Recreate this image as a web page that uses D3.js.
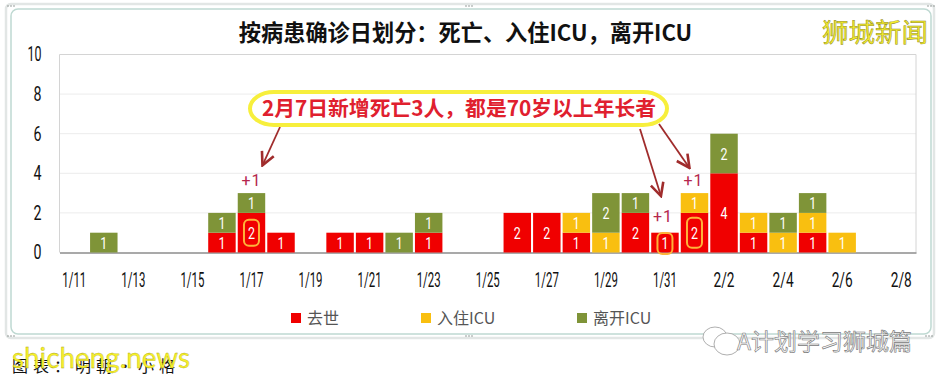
<!DOCTYPE html>
<html>
<head>
<meta charset="utf-8">
<script src="https://cdn.jsdelivr.net/npm/d3@7"></script>
<style>
html, body { margin: 0; padding: 0; background: #fff; }
svg { display: block; }
text { font-family: "Roboto", sans-serif; }
</style>
</head>
<body>
<div id="chart"></div>
<script>
// data
const dates = ["1/11","1/12","1/13","1/14","1/15","1/16","1/17","1/18","1/19","1/20","1/21","1/22","1/23","1/24","1/25",
    "1/26","1/27","1/28","1/29","1/30","1/31","2/1","2/2","2/3","2/4","2/5","2/6","2/7","2/8"];
const death = [0,0,0,0,0,1,2,1,0,1,1,0,1,0,0,2,2,1,0,2,1,2,4,1,0,1,0,0,0];
const icuIn = [0,0,0,0,0,0,0,0,0,0,0,0,0,0,0,0,0,1,1,0,0,1,0,1,1,1,1,0,0];
const icuOut = [0,1,0,0,0,1,1,0,0,0,0,1,1,0,0,0,0,0,2,1,0,0,2,0,1,1,0,0,0];
const yTicks = [0,2,4,6,8,10];
const xTicks = ["1/11","1/13","1/15","1/17","1/19","1/21","1/23","1/25","1/27","1/29","1/31","2/2","2/4","2/6","2/8"];
const seriesNames = ["去世","入住ICU","离开ICU"];
const seriesColors = ["#f00000","#f9bf10","#7f9438"];
const plusOne = [["1/17",3,0],["1/31",1.2,-2],["2/1",3,-1]];
const ringed = [["1/17",1,26],["1/31",0.45,21],["2/1",1,30]];

const W = 942, H = 382;
const margin = { top: 54.5, right: 26, bottom: 129.5, left: 59.5 };
const width = W - margin.left - margin.right,
      height = H - margin.top - margin.bottom;

const root = d3.select("#chart").append("svg")
    .attr("width", W)
    .attr("height", H);

// window frame round the chart
root.append("rect").attr("x", 6).attr("y", 4).attr("width", 928).attr("height", 334)
    .attr("rx", 5).attr("fill", "none").attr("stroke", "#e2e6e5").attr("stroke-width", 2.5);
root.append("rect").attr("x", 11).attr("y", 9).attr("width", 920).attr("height", 325)
    .attr("rx", 7).attr("fill", "#fff").attr("stroke", "#bfd9d2").attr("stroke-width", 1.5);
[[8,6],[466,6],[928,6],[8,336],[466,336],[926,336]].forEach(p => {
    root.append("g").selectAll("circle").data([0,1,2]).join("circle")
        .attr("cx", d => p[0] + d * 3).attr("cy", p[1]).attr("r", 0.8).attr("fill", "#8a8f8d");
});

const svg = root.append("g").attr("transform", `translate(${margin.left},${margin.top})`);

const x = d3.scaleBand().domain(dates).range([0, width]).paddingInner(0.07).paddingOuter(0.035);
const y = d3.scaleLinear().domain([0, 10]).range([height, 0]);
const cx = d => x(d) + x.bandwidth() / 2;

// grid
svg.append("g").selectAll("line").data(yTicks.slice(1)).join("line")
    .attr("x1", 0).attr("x2", width)
    .attr("y1", d => y(d)).attr("y2", d => y(d))
    .attr("stroke", d => d === 10 ? "#d4d4d4" : "#ececec");
svg.append("line").attr("x1", 0).attr("x2", 0).attr("y1", 0).attr("y2", height).attr("stroke", "#d4d4d4");
svg.append("line").attr("x1", width).attr("x2", width).attr("y1", 0).attr("y2", height).attr("stroke", "#d4d4d4");

// axes, the original labels are a narrow face so squeeze them
const xAxis = svg.append("g")
    .attr("transform", `translate(0,${height})`)
    .call(d3.axisBottom(x).tickValues(xTicks).tickSize(0).tickPadding(20));
xAxis.select(".domain").attr("stroke", "#8c8c8c").attr("stroke-width", 1.5);
xAxis.selectAll("text")
    .attr("font-size", 20).attr("fill", "#111")
    .style("font-family", "Roboto")
    .attr("textLength", d => d.length === 3 ? 21 : 24)
    .attr("lengthAdjust", "spacingAndGlyphs");

const yAxis = svg.append("g")
    .call(d3.axisLeft(y).tickValues(yTicks).tickSize(0).tickPadding(18));
yAxis.select(".domain").remove();
yAxis.selectAll("text")
    .attr("font-size", 20).attr("fill", "#111")
    .style("font-family", "Roboto")
    .attr("textLength", d => d === 10 ? 14 : 8)
    .attr("lengthAdjust", "spacingAndGlyphs");

// stacked bars
const rows = dates.map((d, i) => ({ date: d, 0: death[i], 1: icuIn[i], 2: icuOut[i] }));
const stacked = d3.stack().keys([0, 1, 2])(rows);

const layers = svg.selectAll("g.layer").data(stacked).join("g")
    .attr("class", "layer")
    .attr("fill", d => seriesColors[d.key]);

layers.selectAll("rect")
    .data(d => d.filter(s => s[1] > s[0]))
    .join("rect")
    .attr("x", d => x(d.data.date))
    .attr("y", d => y(d[1]))
    .attr("width", x.bandwidth())
    .attr("height", d => y(d[0]) - y(d[1]));

layers.selectAll("text")
    .data(d => d.filter(s => s[1] > s[0]))
    .join("text")
    .attr("x", d => cx(d.data.date))
    .attr("y", d => y((d[0] + d[1]) / 2) + 6)
    .attr("text-anchor", "middle")
    .attr("font-size", 16)
    .attr("fill", "#fff")
    .attr("textLength", 7)
    .attr("lengthAdjust", "spacingAndGlyphs")
    .text(d => d[1] - d[0]);

// orange rings on the new deaths
svg.selectAll("rect.ring").data(ringed).join("rect")
    .attr("class", "ring")
    .attr("x", d => cx(d[0]) - 7.5)
    .attr("y", d => y(d[1]) - d[2] / 2)
    .attr("width", 15)
    .attr("height", d => d[2])
    .attr("rx", 5)
    .attr("fill", "none")
    .attr("stroke", "#fdb33a")
    .attr("stroke-width", 2);

// +1 labels
svg.selectAll("text.plus").data(plusOne).join("text")
    .attr("class", "plus")
    .attr("x", d => cx(d[0]) + d[2])
    .attr("y", d => y(d[1]) - 7)
    .attr("text-anchor", "middle")
    .attr("font-size", 16)
    .attr("fill", "#b5264c")
    .attr("letter-spacing", 1)
    .text("+1");

// callout arrows: start in page pixels, tip placed on the chart scales
root.append("defs").append("marker")
    .attr("id", "arrow").attr("viewBox", "0 0 10 10").attr("refX", 9).attr("refY", 5)
    .attr("markerWidth", 9).attr("markerHeight", 9).attr("orient", "auto")
    .append("path").attr("d", "M1,1 L9,5 L1,9").attr("fill", "none").attr("stroke", "#a02c2c").attr("stroke-width", 1.6);

const arrows = [
    [280, 127, "1/17", 4.4, 11],
    [640, 129, "1/31", 2.85, -4],
    [659, 124, "2/1", 4.27, -5]
];
root.selectAll("line.arrow").data(arrows).join("line")
    .attr("class", "arrow")
    .attr("x1", d => d[0]).attr("y1", d => d[1])
    .attr("x2", d => margin.left + cx(d[2]) + d[4])
    .attr("y2", d => margin.top + y(d[3]))
    .attr("stroke", "#a02c2c").attr("stroke-width", 1.8)
    .attr("marker-end", "url(#arrow)");

root.append("rect").attr("x", 250).attr("y", 92).attr("width", 417).attr("height", 33)
    .attr("rx", 24).attr("ry", 16.5).attr("fill", "#fff").attr("stroke", "#f7ef3c").attr("stroke-width", 4);
root.append("text").attr("x", 459).attr("y", 116)
    .attr("text-anchor", "middle").attr("font-size", 20.8).attr("font-weight", 700)
    .attr("fill", "#e0202e").style("font-family", '"Noto Sans CJK SC"')
    .text("2月7日新增死亡3人，都是70岁以上年长者");

// title
root.append("text").attr("x", 465.5).attr("y", 41)
    .attr("text-anchor", "middle").attr("font-size", 22.2).attr("font-weight", 700)
    .attr("fill", "#111").style("font-family", '"Noto Sans CJK SC"')
    .text("按病患确诊日划分：死亡、入住ICU，离开ICU");

// legend
const legendX = [291, 421, 577];
const legend = root.append("g").selectAll("g").data(seriesNames).join("g")
    .attr("transform", (d, i) => `translate(${legendX[i]},318)`);
legend.append("rect").attr("x", 0).attr("y", -5).attr("width", 10).attr("height", 10)
    .attr("fill", (d, i) => seriesColors[i]);
legend.append("text").attr("x", 16).attr("y", 6)
    .attr("font-size", 16).attr("fill", "#555")
    .style("font-family", '"Noto Sans CJK SC"')
    .text(d => d);

// watermarks
root.append("text").attr("x", 822).attr("y", 42)
    .attr("font-size", 26.5).attr("fill", "#f5ee2c").attr("stroke", "#8f8a20").attr("stroke-width", 0.5)
    .style("font-family", '"Noto Sans CJK SC"').text("狮城新闻");
const wechat = root.append("g").attr("fill", "#fff").attr("stroke", "#9a9a9a").attr("stroke-width", 0.8);
wechat.append("ellipse").attr("cx", 715).attr("cy", 337).attr("rx", 12).attr("ry", 10);
wechat.append("ellipse").attr("cx", 727).attr("cy", 344).attr("rx", 13).attr("ry", 11);
root.append("text").attr("x", 737).attr("y", 350)
    .attr("font-size", 23).attr("fill", "#f6f6f6").attr("stroke", "#777").attr("stroke-width", 0.6)
    .style("font-family", '"Noto Sans CJK SC"').text("A计划学习狮城篇");

root.append("text").attr("x", 12).attr("y", 372)
    .attr("font-size", 16).attr("fill", "#111")
    .style("font-family", '"Noto Sans CJK SC"').attr("letter-spacing", 5).text("图表：明朝·小格");
root.append("text").attr("x", 12).attr("y", 368)
    .attr("font-size", 29).attr("fill", "#f5ef2a").attr("stroke", "#a8a020").attr("stroke-width", 0.3)
    .style("font-family", '"Lato"').attr("textLength", 178).attr("lengthAdjust", "spacingAndGlyphs").text("shicheng.news");
</script>
</body>
</html>
